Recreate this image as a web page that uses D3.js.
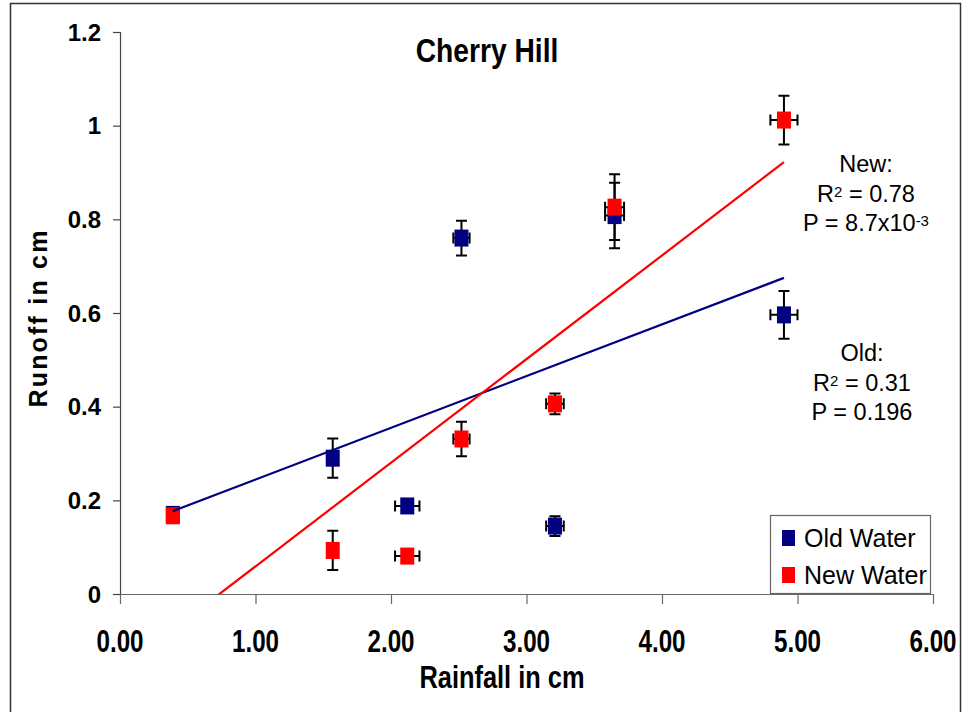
<!DOCTYPE html>
<html>
<head>
<meta charset="utf-8">
<script src="https://cdn.jsdelivr.net/npm/d3@7"></script>
<style>
  body { margin: 0; background: #fff; }
  svg { display: block; }
</style>
</head>
<body>
<div class="chart"></div>
<script>
// rainfall (cm) for each storm
var rainfall = [0.39, 1.57, 2.12, 2.52, 3.21, 3.65, 4.90];
var rainErr = [0, 0, 0.09, 0.06, 0.065, 0.07, 0.1];

var oldWater = [0.170, 0.290, 0.188, 0.760, 0.145, 0.808, 0.596];
var oldErr = [0, 0.042, 0.01, 0.037, 0.021, 0.07, 0.051];
var newWater = [0.167, 0.093, 0.081, 0.331, 0.406, 0.826, 1.012];
var newErr = [0, 0.042, 0.01, 0.037, 0.022, 0.07, 0.052];

// linear trend end points
var trendX = [0.39, 4.90];
var oldTrend = [0.177, 0.675];
var newTrend = [-0.076, 0.922];

var xTicks = [0, 1, 2, 3, 4, 5, 6];
var yTicks = [0, 0.2, 0.4, 0.6, 0.8, 1, 1.2];

var W = 963, H = 712;
var sans = "'Liberation Sans', Arial, sans-serif";

var xScale = d3.scaleLinear().domain([0, 6]).range([120, 933]);
var yScale = d3.scaleLinear().domain([0, 1.2]).range([594, 32]);

var svg = d3.select('.chart').append('svg')
  .attr('width', W)
  .attr('height', H);

svg.append('rect')
  .attr('x', 10.5).attr('y', 3.5)
  .attr('width', 950).attr('height', 730)
  .attr('fill', '#fff')
  .attr('stroke', '#333')
  .attr('stroke-width', 1.5);

svg.append('defs').append('clipPath').attr('id', 'plot')
  .append('rect')
  .attr('x', xScale(0)).attr('y', yScale(1.2))
  .attr('width', xScale(6) - xScale(0))
  .attr('height', yScale(0) - yScale(1.2));

// condensed bold text (squeezed horizontally like the original)
function narrowText(x, y, size, sx, str) {
  return svg.append('text')
    .attr('transform', 'translate(' + x + ',' + y + ') scale(' + sx + ',1)')
    .attr('text-anchor', 'middle')
    .style('font', 'bold ' + size + 'px ' + sans)
    .text(str);
}

// axes
svg.append('line')
  .attr('x1', xScale(0)).attr('x2', xScale(6))
  .attr('y1', yScale(0) + 0.5).attr('y2', yScale(0) + 0.5)
  .attr('stroke', '#666').attr('stroke-width', 1.2);
svg.append('line')
  .attr('x1', xScale(0) + 0.5).attr('x2', xScale(0) + 0.5)
  .attr('y1', yScale(1.2)).attr('y2', yScale(0))
  .attr('stroke', '#444').attr('stroke-width', 1.2);

svg.selectAll('.xtick').data(xTicks).enter().append('line')
  .attr('class', 'xtick')
  .attr('x1', function (d) { return xScale(d) + 0.5; })
  .attr('x2', function (d) { return xScale(d) + 0.5; })
  .attr('y1', yScale(0)).attr('y2', yScale(0) + 10)
  .attr('stroke', '#666').attr('stroke-width', 1.2);

xTicks.forEach(function (d) {
  narrowText(xScale(d), 652, 31, 0.78, d3.format('.2f')(d));
});

svg.selectAll('.ytick').data(yTicks).enter().append('line')
  .attr('class', 'ytick')
  .attr('x1', xScale(0) - 7).attr('x2', xScale(0))
  .attr('y1', function (d) { return yScale(d) + 0.5; })
  .attr('y2', function (d) { return yScale(d) + 0.5; })
  .attr('stroke', '#444').attr('stroke-width', 1.2);

svg.selectAll('.ylab').data(yTicks).enter().append('text')
  .attr('class', 'ylab')
  .attr('x', 101)
  .attr('y', function (d) { return yScale(d) + 8.5; })
  .attr('text-anchor', 'end')
  .style('font', 'bold 24px ' + sans)
  .text(function (d) { return d3.format('~g')(d); });

// titles
narrowText(487, 62, 34, 0.83, 'Cherry Hill');
narrowText(502, 688, 31, 0.82, 'Rainfall in cm');

svg.append('text')
  .attr('transform', 'translate(47,' + 318 + ') rotate(-90)')
  .attr('text-anchor', 'middle')
  .style('font', 'bold 25px ' + sans)
  .style('letter-spacing', '2.2px')
  .text('Runoff in cm');

// error bars then markers
var series = [
  { name: 'Old Water', color: '#000080', y: oldWater, yErr: oldErr },
  { name: 'New Water', color: '#ff0000', y: newWater, yErr: newErr }
];

var cap = 5.5;
series.forEach(function (s) {
  var g = svg.append('g').attr('stroke', '#000').attr('stroke-width', 2).attr('fill', 'none');
  rainfall.forEach(function (x, i) {
    var cx = xScale(x), cy = yScale(s.y[i]);
    if (s.yErr[i] > 0) {
      var y0 = yScale(s.y[i] - s.yErr[i]), y1 = yScale(s.y[i] + s.yErr[i]);
      g.append('path').attr('d',
        'M' + cx + ',' + y0 + 'V' + y1 +
        'M' + (cx - cap) + ',' + y0 + 'H' + (cx + cap) +
        'M' + (cx - cap) + ',' + y1 + 'H' + (cx + cap));
    }
    if (rainErr[i] > 0) {
      var x0 = xScale(x - rainErr[i]), x1 = xScale(x + rainErr[i]);
      g.append('path').attr('d',
        'M' + x0 + ',' + cy + 'H' + x1 +
        'M' + x0 + ',' + (cy - cap) + 'V' + (cy + cap) +
        'M' + x1 + ',' + (cy - cap) + 'V' + (cy + cap));
    }
  });
});

series.forEach(function (s) {
  svg.append('g').selectAll('rect').data(rainfall).enter().append('rect')
    .attr('x', function (d) { return xScale(d) - 7; })
    .attr('y', function (d, i) { return yScale(s.y[i]) - 8.5; })
    .attr('width', 14)
    .attr('height', 17)
    .attr('fill', s.color);
});

// trend lines
var line = d3.line()
  .x(function (d) { return xScale(d[0]); })
  .y(function (d) { return yScale(d[1]); });

var trends = [
  { color: '#000080', pts: d3.zip(trendX, oldTrend) },
  { color: '#ff0000', pts: d3.zip(trendX, newTrend) }
];

svg.append('g').attr('clip-path', 'url(#plot)')
  .selectAll('path').data(trends).enter().append('path')
  .attr('d', function (d) { return line(d.pts); })
  .attr('fill', 'none')
  .attr('stroke', function (d) { return d.color; })
  .attr('stroke-width', 2.2);

// fit annotations
function note(cx, top, lines) {
  lines.forEach(function (l, i) {
    var t = svg.append('text')
      .attr('x', cx).attr('y', top + i * 29.5)
      .attr('text-anchor', 'middle')
      .style('font', '23.5px ' + sans);
    l.forEach(function (part) {
      var ts = t.append('tspan').text(part[0]);
      if (part[1]) ts.attr('baseline-shift', '35%').style('font-size', '15px');
    });
  });
}
note(866, 172, [[['New:']], [['R'], ['2', 1], [' = 0.78']], [['P = 8.7x10'], ['-3', 1]]]);
note(862, 361, [[['Old:']], [['R'], ['2', 1], [' = 0.31']], [['P = 0.196']]]);

// legend
var lg = svg.append('g');
lg.append('rect')
  .attr('x', 770.5).attr('y', 515.5)
  .attr('width', 160).attr('height', 78)
  .attr('fill', '#fff').attr('stroke', '#666').attr('stroke-width', 1.2);
series.forEach(function (s, i) {
  lg.append('rect')
    .attr('x', 782).attr('y', 530 + i * 37)
    .attr('width', 13).attr('height', 16)
    .attr('fill', s.color);
  lg.append('text')
    .attr('x', 804).attr('y', 547 + i * 37)
    .style('font', '25px ' + sans)
    .text(s.name);
});
</script>
</body>
</html>
